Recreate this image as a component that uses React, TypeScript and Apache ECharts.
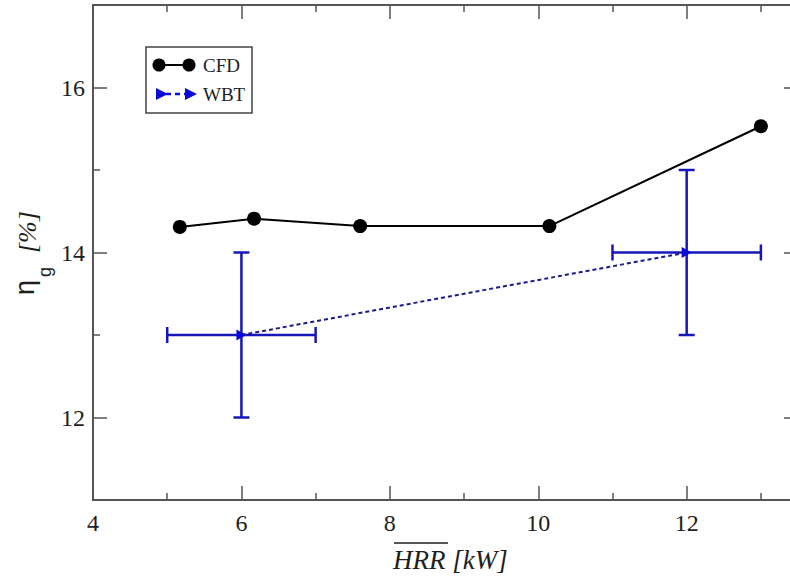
import React, { useEffect, useRef } from "react";
import * as echarts from "echarts";

// CFD predictions of the global efficiency vs. mean heat release rate
const cfdHrr = [5.17, 6.17, 7.6, 10.15, 13.0];
const cfdEta = [14.31, 14.41, 14.32, 14.32, 15.53];

// Water boiling test results with their uncertainty
const wbtHrr = [6, 12];
const wbtEta = [13, 14];
const wbtHrrErr = [1, 1];
const wbtEtaErr = [1, 1];

// Axis ranges and tick positions
const xRange = [4, 13.5];
const yRange = [11, 17];
const xMajorTicks = [4, 6, 8, 10, 12];
const xMinorTicks = [5, 7, 9, 11, 13];
const yMajorTicks = [12, 14, 16];
const yMinorTicks = [13, 15];

const SERIF = "Liberation Serif";
const SANS = "Liberation Sans";
const FRAME = "#555555";
const TEXT = "#1e1e1e";
const ERR_BLUE = "#1717b8";
const DASH_BLUE = "#1a1a8e";
const MARK_BLUE = "#0a0ad6";

function xAxis(position: string, values: number[], length: number, labels: boolean) {
  return {
    type: "value",
    gridIndex: 0,
    position,
    min: xRange[0],
    max: xRange[1],
    axisLine: { show: true, onZero: false, lineStyle: { color: FRAME, width: 2 } },
    axisTick: {
      show: true,
      inside: true,
      length,
      customValues: values,
      lineStyle: { color: FRAME, width: 1.5 },
    },
    axisLabel: labels
      ? { show: true, customValues: values, margin: 11, fontFamily: SERIF, fontSize: 24, color: TEXT }
      : { show: false },
    splitLine: { show: false },
  };
}

function yAxis(position: string, values: number[], length: number, labels: boolean) {
  return {
    type: "value",
    gridIndex: 0,
    position,
    min: yRange[0],
    max: yRange[1],
    axisLine: { show: true, onZero: false, lineStyle: { color: FRAME, width: 2 } },
    axisTick: {
      show: true,
      inside: true,
      length,
      customValues: values,
      lineStyle: { color: FRAME, width: 1.5 },
    },
    axisLabel: labels
      ? { show: true, customValues: values, margin: 8, fontFamily: SERIF, fontSize: 24, color: TEXT }
      : { show: false },
    splitLine: { show: false },
  };
}

export default function App() {
  const ref = useRef<HTMLDivElement>(null);

  useEffect(() => {
    document.body.style.margin = "0";
    if (!ref.current) return;
    const chart = echarts.init(ref.current, null, { renderer: "svg" });

    const option = {
      animation: false,
      backgroundColor: "#ffffff",
      textStyle: { fontFamily: SERIF },
      grid: {
        left: 93,
        top: 5,
        width: 705,
        height: 495,
        containLabel: false,
        outerBoundsMode: "none",
      },
      xAxis: [
        xAxis("bottom", xMajorTicks, 14, true),
        xAxis("bottom", xMinorTicks, 7, false),
        xAxis("top", xMajorTicks, 14, false),
        xAxis("top", xMinorTicks, 7, false),
      ],
      yAxis: [
        yAxis("left", yMajorTicks, 14, true),
        yAxis("left", yMinorTicks, 7, false),
        yAxis("right", yMajorTicks, 14, false),
        yAxis("right", yMinorTicks, 7, false),
      ],
      series: [
        {
          name: "WBT error",
          type: "custom",
          xAxisIndex: 0,
          yAxisIndex: 0,
          z: 2,
          data: wbtHrr.map((x, i) => [x, wbtEta[i], wbtHrrErr[i], wbtEtaErr[i]]),
          renderItem: (_params: any, api: any) => {
            const x = api.value(0);
            const y = api.value(1);
            const dx = api.value(2);
            const dy = api.value(3);
            const c = api.coord([x, y]);
            const l = api.coord([x - dx, y]);
            const r = api.coord([x + dx, y]);
            const t = api.coord([x, y + dy]);
            const b = api.coord([x, y - dy]);
            const cap = 8;
            const style = { stroke: ERR_BLUE, lineWidth: 2.5, fill: null };
            const seg = (x1: number, y1: number, x2: number, y2: number) => ({
              type: "line",
              shape: { x1, y1, x2, y2 },
              style,
            });
            return {
              type: "group",
              children: [
                seg(l[0], c[1], r[0], c[1]),
                seg(l[0], c[1] - cap, l[0], c[1] + cap),
                seg(r[0], c[1] - cap, r[0], c[1] + cap),
                seg(c[0], t[1], c[0], b[1]),
                seg(c[0] - cap, t[1], c[0] + cap, t[1]),
                seg(c[0] - cap, b[1], c[0] + cap, b[1]),
              ],
            };
          },
        },
        {
          name: "CFD",
          type: "line",
          xAxisIndex: 0,
          yAxisIndex: 0,
          z: 3,
          data: cfdHrr.map((x, i) => [x, cfdEta[i]]),
          symbol: "circle",
          symbolSize: 14,
          itemStyle: { color: "#000000" },
          lineStyle: { color: "#000000", width: 2 },
        },
        {
          name: "WBT",
          type: "line",
          xAxisIndex: 0,
          yAxisIndex: 0,
          z: 4,
          data: wbtHrr.map((x, i) => [x, wbtEta[i]]),
          symbol: "triangle",
          symbolRotate: -90,
          symbolSize: [11, 10],
          itemStyle: { color: MARK_BLUE },
          lineStyle: { color: DASH_BLUE, width: 2, type: [4, 3] },
        },
      ],
      graphic: [
        // legend box
        {
          type: "rect",
          shape: { x: 146, y: 47, width: 106, height: 66 },
          style: { fill: "#ffffff", stroke: "#444444", lineWidth: 1.5 },
          z: 10,
        },
        {
          type: "line",
          shape: { x1: 159, y1: 65, x2: 189, y2: 65 },
          style: { stroke: "#000000", lineWidth: 2 },
          z: 11,
        },
        { type: "circle", shape: { cx: 159, cy: 65, r: 6.5 }, style: { fill: "#000000" }, z: 11 },
        { type: "circle", shape: { cx: 189, cy: 65, r: 6.5 }, style: { fill: "#000000" }, z: 11 },
        {
          type: "text",
          x: 203,
          y: 65,
          style: { text: "CFD", fontFamily: SERIF, fontSize: 19, fill: TEXT, verticalAlign: "middle" },
          z: 11,
        },
        {
          type: "line",
          shape: { x1: 166, y1: 94, x2: 186, y2: 94 },
          style: { stroke: MARK_BLUE, lineWidth: 2.5, lineDash: [5, 4] },
          z: 11,
        },
        {
          type: "polygon",
          shape: { points: [[156, 88], [168, 94], [156, 100]] },
          style: { fill: MARK_BLUE },
          z: 11,
        },
        {
          type: "polygon",
          shape: { points: [[185, 88], [197, 94], [185, 100]] },
          style: { fill: MARK_BLUE },
          z: 11,
        },
        {
          type: "text",
          x: 203,
          y: 94,
          style: { text: "WBT", fontFamily: SERIF, fontSize: 19, fill: TEXT, verticalAlign: "middle" },
          z: 11,
        },
        // x-axis title with overline on HRR
        {
          type: "text",
          x: 393,
          y: 560,
          style: {
            text: "HRR [kW]",
            fontFamily: SERIF,
            fontStyle: "italic",
            fontSize: 27,
            fill: TEXT,
            verticalAlign: "middle",
          },
          z: 11,
        },
        {
          type: "line",
          shape: { x1: 394, y1: 543, x2: 448, y2: 543 },
          style: { stroke: TEXT, lineWidth: 1.5 },
          z: 11,
        },
        // y-axis title, rotated
        {
          type: "group",
          x: 0,
          y: 296,
          rotation: Math.PI / 2,
          children: [
            {
              type: "text",
              x: 1,
              y: 25,
              style: { text: "η", fontFamily: SANS, fontSize: 27, fill: TEXT, verticalAlign: "middle" },
            },
            {
              type: "text",
              x: 19,
              y: 45,
              style: { text: "g", fontFamily: SANS, fontSize: 18, fill: TEXT, verticalAlign: "middle" },
            },
            {
              type: "text",
              x: 43,
              y: 27,
              style: {
                text: "[%]",
                fontFamily: SERIF,
                fontStyle: "italic",
                fontSize: 26,
                fill: TEXT,
                verticalAlign: "middle",
              },
            },
          ],
          z: 11,
        },
      ],
    };

    chart.setOption(option as any);
    return () => chart.dispose();
  }, []);

  return <div ref={ref} style={{ width: 790, height: 578 }} />;
}
